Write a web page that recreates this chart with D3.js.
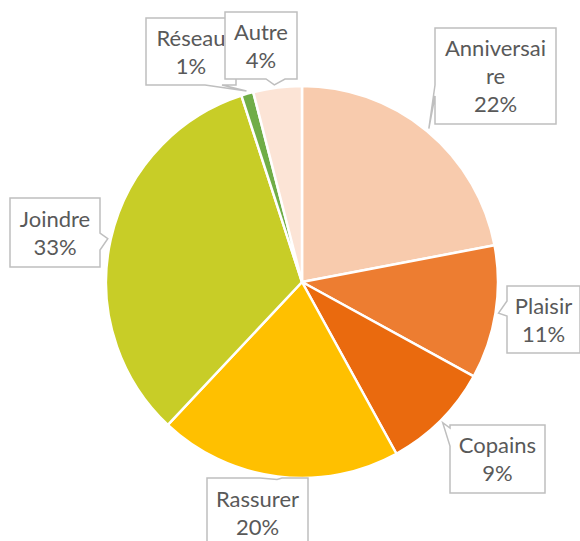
<!DOCTYPE html>
<html><head><meta charset="utf-8">
<script src="https://cdn.jsdelivr.net/npm/d3@7"></script>
<style>html,body{margin:0;padding:0;background:#fff;}svg{display:block;}</style>
</head><body>
<script>
// ---- data ----
const categories = ["Anniversaire", "Plaisir", "Copains", "Rassurer", "Joindre", "Réseau", "Autre"];
const values = [22, 11, 9, 20, 33, 1, 4];
const labelLines = [["Anniversai", "re"], ["Plaisir"], ["Copains"], ["Rassurer"], ["Joindre"], ["Réseau"], ["Autre"]];
const colors = ["#F8CBAD", "#ED7D31", "#EA6A0E", "#FFC000", "#C8CD27", "#70AD47", "#FCE4D6"];

// ---- layout (label boxes) ----
const W = 580, H = 541, cx = 302, cy = 282, R = 196;
const boxes = [
  {x: 435, y: 28, w: 121, h: 96, side: "left", base: [85, 96]},
  {x: 507, y: 286, w: 73, h: 67, side: "left", base: [301, 316]},
  {x: 450, y: 425, w: 95, h: 68, side: "left", base: [428, 446]},
  {x: 207, y: 478, w: 101, h: 70, side: "top", base: [260, 282]},
  {x: 10, y: 198, w: 90, h: 69, side: "right", base: [233, 250]},
  {x: 146, y: 18, w: 90, h: 67, side: "bottom", base: [205, 222]},
  {x: 225, y: 12, w: 72, h: 67, side: "bottom", base: [266, 285], tipAngle: 352}
];

const svg = d3.select("body").append("svg").attr("width", W).attr("height", H);
const total = d3.sum(values);
const pie = d3.pie().sort(null).value(d => d)(values);
const arc = d3.arc().innerRadius(0).outerRadius(R);

const g = svg.append("g").attr("transform", `translate(${cx},${cy})`);
g.selectAll("path.slice").data(pie).join("path")
  .attr("class", "slice")
  .attr("d", arc)
  .attr("fill", (d, i) => colors[i])
  .attr("stroke", "#fff")
  .attr("stroke-width", 2.5)
  .attr("stroke-linejoin", "round");

function calloutPath(b, tip) {
  const x0 = b.x, y0 = b.y, x1 = b.x + b.w, y1 = b.y + b.h;
  const [a0, a1] = b.base;
  const t = `${tip[0]},${tip[1]}`;
  switch (b.side) {
    case "top": return `M${x0},${y0}L${a0},${y0}L${t}L${a1},${y0}L${x1},${y0}L${x1},${y1}L${x0},${y1}Z`;
    case "right": return `M${x0},${y0}L${x1},${y0}L${x1},${a0}L${t}L${x1},${a1}L${x1},${y1}L${x0},${y1}Z`;
    case "bottom": return `M${x0},${y0}L${x1},${y0}L${x1},${y1}L${a1},${y1}L${t}L${a0},${y1}L${x0},${y1}Z`;
    default: return `M${x0},${y0}L${x1},${y0}L${x1},${y1}L${x0},${y1}L${x0},${a1}L${t}L${x0},${a0}Z`;
  }
}

const fontSize = 22, lineH = 28;
pie.forEach((d, i) => {
  const b = boxes[i];
  const ang = b.tipAngle != null ? b.tipAngle * Math.PI / 180 : (d.startAngle + d.endAngle) / 2;
  const rr = R + 3;
  const tip = [cx + rr * Math.sin(ang), cy - rr * Math.cos(ang)];
  const lg = svg.append("g");
  lg.append("path").attr("d", calloutPath(b, tip))
    .attr("fill", "#fff").attr("stroke", "#BFBFBF").attr("stroke-width", 1.5);
  const lines = labelLines[i].concat([Math.round(d.data / total * 100) + "%"]);
  const n = lines.length;
  const mid = b.y + b.h / 2;
  lg.selectAll("text").data(lines).join("text")
    .attr("x", b.x + b.w / 2)
    .attr("y", (t, k) => mid + (k - (n - 1) / 2) * lineH + 8)
    .attr("text-anchor", "middle")
    .attr("font-family", "Lato, 'Open Sans', sans-serif")
    .attr("font-size", fontSize)
    .attr("fill", "#595959")
    .text(t => t);
});
</script>
</body></html>
